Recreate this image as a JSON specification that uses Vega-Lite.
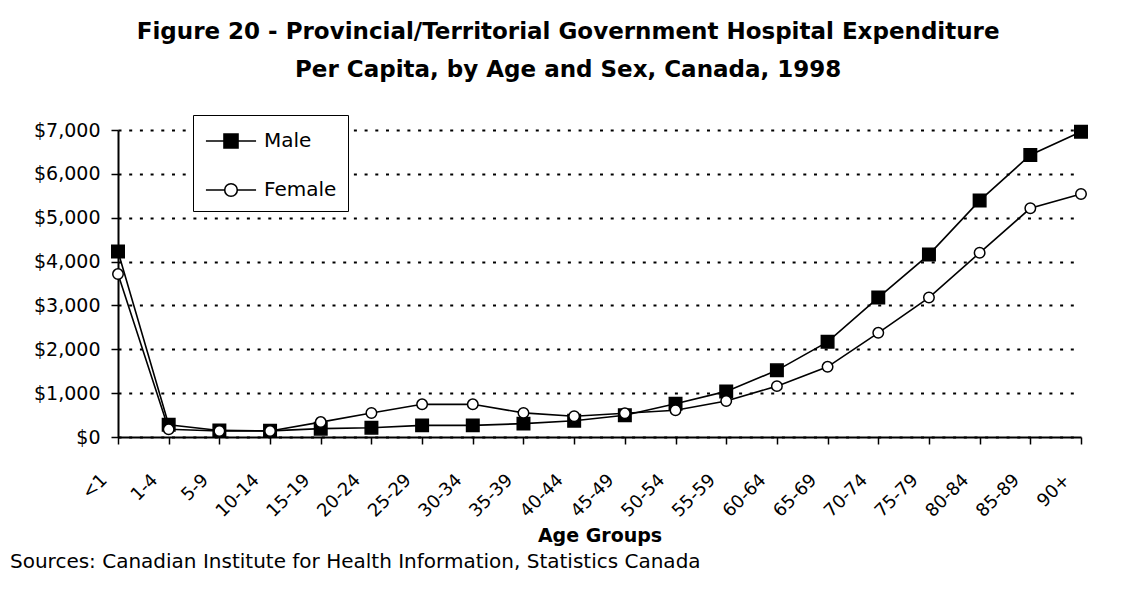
{
  "$schema": "https://vega.github.io/schema/vega-lite/v6.json",
  "background": "white",
  "padding": {"left": 10, "top": 20, "right": 10, "bottom": 10},
  "title": {
    "text": ["Figure 20 - Provincial/Territorial Government Hospital Expenditure", "Per Capita, by Age and Sex, Canada, 1998"],
    "font": "DejaVu Sans", "fontSize": 23, "fontWeight": "bold", "lineHeight": 38, "color": "black",
    "anchor": "middle", "offset": 33, "dx": 18
  },
  "config": {"view": {"stroke": null}, "font": "DejaVu Sans"},
  "vconcat": [
    {
      "width": 963,
      "height": 307,
      "title": {
        "text": "Sources: Canadian Institute for Health Information, Statistics Canada",
        "orient": "bottom", "anchor": "start", "frame": "group", "dx": -108, "offset": 7,
        "font": "DejaVu Sans", "fontSize": 20, "fontWeight": "normal", "color": "black"
      },
      "data": {
        "values": [
          {"age": "<1", "sex": "Male", "cost": 4230},
          {"age": "1-4", "sex": "Male", "cost": 280},
          {"age": "5-9", "sex": "Male", "cost": 150},
          {"age": "10-14", "sex": "Male", "cost": 140},
          {"age": "15-19", "sex": "Male", "cost": 190},
          {"age": "20-24", "sex": "Male", "cost": 212},
          {"age": "25-29", "sex": "Male", "cost": 265},
          {"age": "30-34", "sex": "Male", "cost": 265},
          {"age": "35-39", "sex": "Male", "cost": 305},
          {"age": "40-44", "sex": "Male", "cost": 370},
          {"age": "45-49", "sex": "Male", "cost": 495},
          {"age": "50-54", "sex": "Male", "cost": 760},
          {"age": "55-59", "sex": "Male", "cost": 1040},
          {"age": "60-64", "sex": "Male", "cost": 1520},
          {"age": "65-69", "sex": "Male", "cost": 2170},
          {"age": "70-74", "sex": "Male", "cost": 3180},
          {"age": "75-79", "sex": "Male", "cost": 4160},
          {"age": "80-84", "sex": "Male", "cost": 5390},
          {"age": "85-89", "sex": "Male", "cost": 6430},
          {"age": "90+", "sex": "Male", "cost": 6960},
          {"age": "<1", "sex": "Female", "cost": 3715},
          {"age": "1-4", "sex": "Female", "cost": 175},
          {"age": "5-9", "sex": "Female", "cost": 137},
          {"age": "10-14", "sex": "Female", "cost": 137},
          {"age": "15-19", "sex": "Female", "cost": 340},
          {"age": "20-24", "sex": "Female", "cost": 548},
          {"age": "25-29", "sex": "Female", "cost": 745},
          {"age": "30-34", "sex": "Female", "cost": 745},
          {"age": "35-39", "sex": "Female", "cost": 550},
          {"age": "40-44", "sex": "Female", "cost": 472},
          {"age": "45-49", "sex": "Female", "cost": 540},
          {"age": "50-54", "sex": "Female", "cost": 610},
          {"age": "55-59", "sex": "Female", "cost": 822},
          {"age": "60-64", "sex": "Female", "cost": 1160},
          {"age": "65-69", "sex": "Female", "cost": 1600},
          {"age": "70-74", "sex": "Female", "cost": 2375},
          {"age": "75-79", "sex": "Female", "cost": 3180},
          {"age": "80-84", "sex": "Female", "cost": 4200},
          {"age": "85-89", "sex": "Female", "cost": 5215},
          {"age": "90+", "sex": "Female", "cost": 5540}
        ]
      },
      "encoding": {
        "x": {
          "field": "age", "type": "ordinal",
          "sort": ["<1", "1-4", "5-9", "10-14", "15-19", "20-24", "25-29", "30-34", "35-39", "40-44", "45-49", "50-54", "55-59", "60-64", "65-69", "70-74", "75-79", "80-84", "85-89", "90+"],
          "scale": {"type": "point", "padding": 0},
          "axis": {
            "title": "Age Groups", "titleFont": "DejaVu Sans", "titleFontSize": 19, "titleFontWeight": "bold", "titleColor": "black", "titlePadding": 6,
            "labelAngle": -45, "labelAlign": "right", "labelBaseline": "middle", "labelOffset": -14, "labelPadding": 33,
            "labelFont": "DejaVu Sans", "labelFontSize": 18, "labelColor": "black", "labelOverlap": false,
            "tickSize": 7, "tickColor": "black", "tickWidth": 1.5,
            "domainColor": "black", "domainWidth": 2, "grid": false
          }
        },
        "y": {
          "field": "cost", "type": "quantitative",
          "scale": {"domain": [0, 7000], "nice": false},
          "axis": {
            "title": null, "values": [0, 1000, 2000, 3000, 4000, 5000, 6000, 7000], "format": "$,.0f",
            "labelFont": "DejaVu Sans", "labelFontSize": 19, "labelColor": "black", "labelPadding": 11,
            "tickSize": 7, "tickColor": "black", "tickWidth": 1.5,
            "domainColor": "black", "domainWidth": 2,
            "grid": true, "gridColor": "black", "gridWidth": 2, "gridDash": [3, 7.7], "gridOpacity": 1
          }
        }
      },
      "layer": [
        {
          "mark": {"type": "line", "strokeWidth": 1.6},
          "encoding": {
            "color": {
              "field": "sex", "type": "nominal",
              "scale": {"domain": ["Male", "Female"], "range": ["black", "black"]},
              "legend": {
                "title": null, "orient": "none", "legendX": 75, "legendY": -15, "direction": "vertical",
                "strokeColor": "black", "fillColor": "white", "padding": 11,
                "symbolSize": 784, "symbolOffset": 12, "labelOffset": 18, "rowPadding": 23,
                "labelFont": "DejaVu Sans", "labelFontSize": 20, "labelColor": "black",
                "encode": {
                  "symbols": {
                    "update": {
                      "shape": {"signal": "datum.value === 'Male' ? 'M-1.79,0H1.79M-0.5,-0.5H0.5V0.5H-0.5Z' : 'M-1.79,0H-0.45M0.45,0H1.79M0.45,0A0.45,0.45,0,1,1,-0.45,0A0.45,0.45,0,1,1,0.45,0Z'"},
                      "fill": {"signal": "datum.value === 'Male' ? 'black' : 'white'"},
                      "stroke": {"value": "black"},
                      "strokeWidth": {"value": 1.6},
                      "opacity": {"value": 1},
                      "size": {"value": 784}
                    }
                  }
                }
              }
            }
          }
        },
        {
          "transform": [{"filter": "datum.sex === 'Male'"}],
          "mark": {"type": "point", "shape": "square", "filled": true, "fill": "black", "stroke": "black", "strokeWidth": 1.5, "size": 156, "opacity": 1}
        },
        {
          "transform": [{"filter": "datum.sex === 'Female'"}],
          "mark": {"type": "point", "shape": "circle", "filled": true, "fill": "white", "stroke": "black", "strokeWidth": 1.5, "size": 110, "opacity": 1}
        }
      ]
    }
  ]
}
